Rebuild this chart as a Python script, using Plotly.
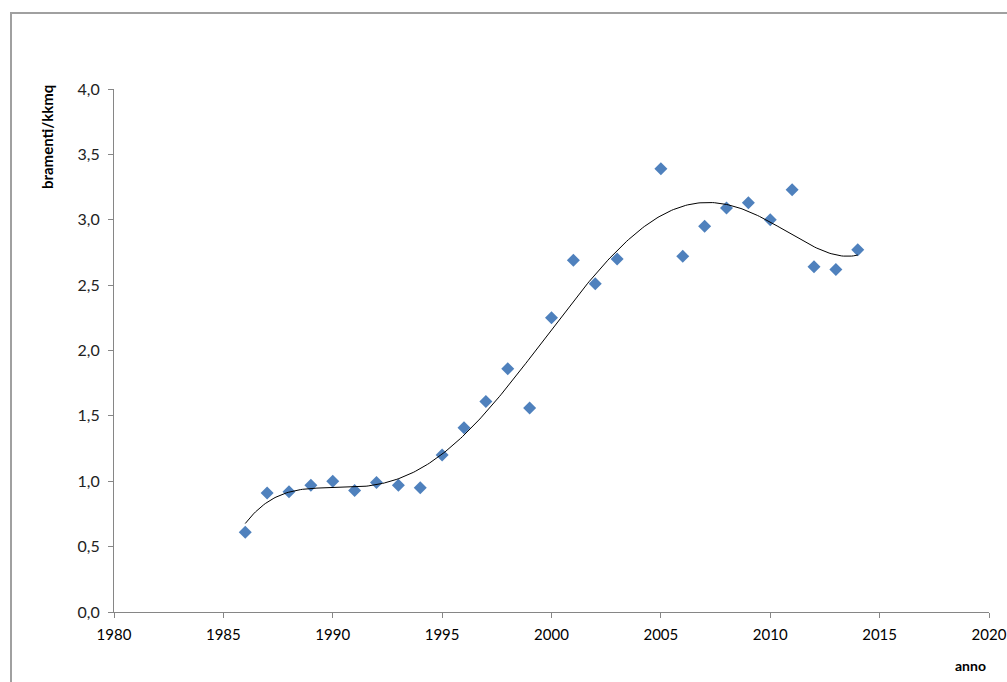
import numpy as np
import plotly.graph_objects as go

# Annual density of observations (bramenti per km²)
anni = [1986, 1987, 1988, 1989, 1990, 1991, 1992, 1993, 1994, 1995, 1996, 1997,
        1998, 1999, 2000, 2001, 2002, 2003, 2005, 2006, 2007, 2008, 2009, 2010,
        2011, 2012, 2013, 2014]
bramenti = [0.61, 0.91, 0.92, 0.97, 1.00, 0.93, 0.99, 0.97, 0.95, 1.20, 1.41, 1.61,
            1.86, 1.56, 2.25, 2.69, 2.51, 2.70, 3.39, 2.72, 2.95, 3.09, 3.13, 3.00,
            3.23, 2.64, 2.62, 2.77]

x_ticks = [1980, 1985, 1990, 1995, 2000, 2005, 2010, 2015, 2020]
y_ticks = [0.0, 0.5, 1.0, 1.5, 2.0, 2.5, 3.0, 3.5, 4.0]
y_tick_text = ["0,0", "0,5", "1,0", "1,5", "2,0", "2,5", "3,0", "3,5", "4,0"]

# Polynomial trendline fitted to the observations
TREND_DEGREE = 5
xa = np.array(anni, dtype=float)
ya = np.array(bramenti, dtype=float)
x0 = xa.mean()
coef = np.polyfit(xa - x0, ya, TREND_DEGREE)
x_trend = np.linspace(xa.min(), xa.max(), 300)
y_trend = np.polyval(coef, x_trend - x0)

fig = go.Figure()

fig.add_trace(go.Scatter(
    x=anni, y=bramenti, mode="markers",
    marker=dict(symbol="diamond", size=10, color="#4F81BD",
                line=dict(width=0)),
    showlegend=False, hoverinfo="x+y",
))

fig.add_trace(go.Scatter(
    x=x_trend, y=y_trend, mode="lines",
    line=dict(color="#000000", width=1),
    showlegend=False, hoverinfo="skip",
))

axis_col = "#868686"
FONT = "Lato, 'Open Sans', sans-serif"

fig.update_xaxes(
    range=[1980, 2020], tickvals=x_ticks, ticktext=[str(v) for v in x_ticks],
    showgrid=False, zeroline=False, showline=True, linecolor=axis_col, linewidth=1,
    ticks="outside", ticklen=5, tickcolor=axis_col, automargin=False,
    ticklabeloverflow="allow", ticklabelstandoff=4,
    tickfont=dict(family=FONT, size=15, color="#000000"),
)
fig.update_yaxes(
    range=[0, 4.0], tickvals=y_ticks, ticktext=y_tick_text,
    showgrid=False, zeroline=False, showline=True, linecolor=axis_col, linewidth=1,
    ticks="outside", ticklen=5, tickcolor=axis_col, automargin=False,
    ticklabelstandoff=5,
    tickfont=dict(family=FONT, size=16, color="#222222"),
)

L, R, T, B = 114, 18, 89, 70
W, H = 1007, 682
pw, ph = W - L - R, H - T - B

def px_to_paper_x(px):
    return (px - L) / pw

def px_to_paper_y(py):
    return (H - B - py) / ph

# Outer chart frame
fig.add_shape(
    type="rect", xref="paper", yref="paper",
    x0=px_to_paper_x(11), x1=px_to_paper_x(W + 20),
    y0=px_to_paper_y(H + 20), y1=px_to_paper_y(13),
    line=dict(color="#A0A0A0", width=2), fillcolor="rgba(0,0,0,0)", layer="below",
)

fig.add_annotation(
    text="<b>bramenti/kkmq</b>", textangle=-90, showarrow=False,
    xref="paper", yref="paper",
    x=px_to_paper_x(47), y=px_to_paper_y(137),
    xanchor="center", yanchor="middle",
    font=dict(family=FONT, size=15, color="#000000"),
)
fig.add_annotation(
    text="<b>anno</b>", showarrow=False,
    xref="paper", yref="paper",
    x=px_to_paper_x(970), y=px_to_paper_y(665),
    xanchor="center", yanchor="middle",
    font=dict(family=FONT, size=14, color="#000000"),
)

fig.update_layout(
    width=W, height=H,
    margin=dict(l=L, r=R, t=T, b=B, autoexpand=False),
    paper_bgcolor="#FFFFFF", plot_bgcolor="#FFFFFF",
)

fig.write_html("out.html")
